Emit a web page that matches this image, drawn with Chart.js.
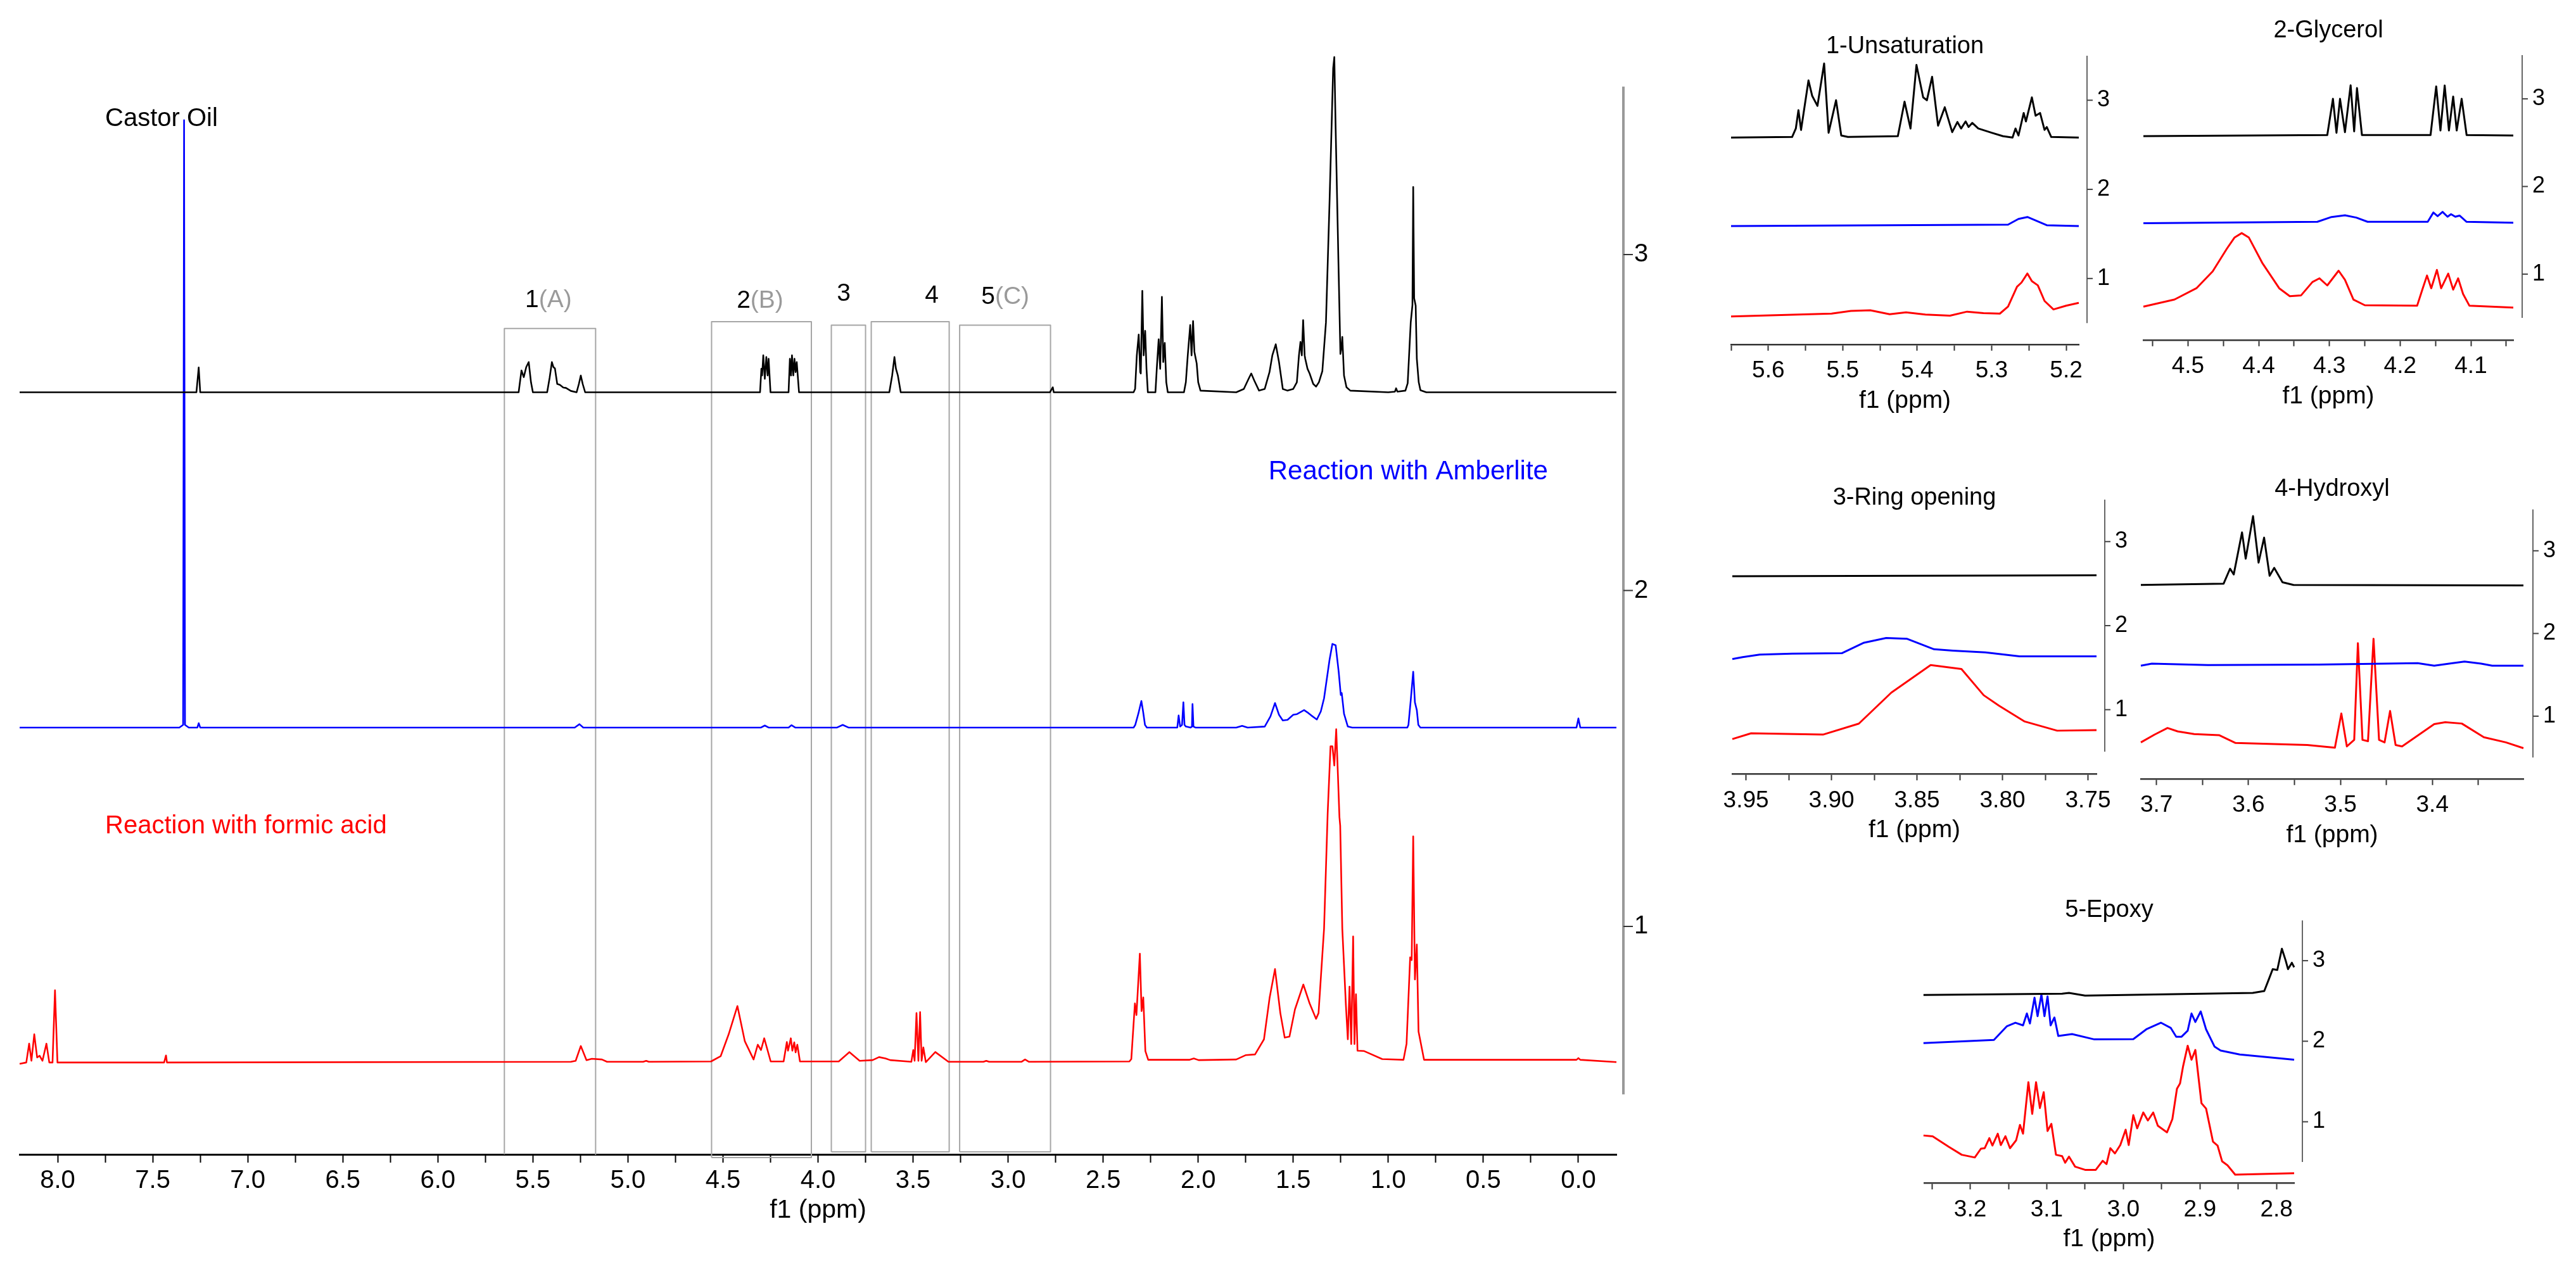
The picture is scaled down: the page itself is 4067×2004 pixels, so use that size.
<!DOCTYPE html>
<html>
<head>
<meta charset="utf-8">
<script src="https://cdn.jsdelivr.net/npm/chart.js@4.4.1/dist/chart.umd.min.js"></script>
<style>
html, body { margin: 0; padding: 0; background: #fff; }
body { width: 4067px; height: 2004px; position: relative; overflow: hidden; }
canvas { position: absolute; }
</style>
</head>
<body>
<canvas id="main"></canvas>
<canvas id="unsat"></canvas>
<canvas id="glyc"></canvas>
<canvas id="ring"></canvas>
<canvas id="hydrox"></canvas>
<canvas id="epoxy"></canvas>
<script>
// ---- data: [ppm, intensity] pairs ----
const castorMain = [[8.2,2.59],[7.27,2.59],[7.258,2.664],[7.25,2.59],
  [5.575,2.59],[5.56,2.655],[5.548,2.635],[5.535,2.665],[5.522,2.68],[5.51,2.62],[5.5,2.59],
  [5.425,2.59],[5.412,2.633],[5.405,2.66],[5.4,2.68],[5.392,2.665],[5.384,2.661],[5.372,2.615],[5.358,2.612],[5.34,2.604],[5.326,2.603],[5.3,2.594],[5.27,2.59],[5.258,2.615],[5.248,2.64],[5.238,2.615],[5.225,2.59],
  [4.305,2.59],[4.298,2.66],[4.294,2.64],[4.288,2.7],[4.28,2.63],[4.272,2.695],[4.265,2.64],[4.26,2.69],[4.25,2.59],
  [4.155,2.59],[4.148,2.69],[4.142,2.64],[4.137,2.7],[4.13,2.64],[4.124,2.69],[4.118,2.65],[4.112,2.68],[4.1,2.59],
  [3.625,2.59],[3.61,2.64],[3.598,2.695],[3.59,2.66],[3.58,2.64],[3.565,2.59],
  [2.78,2.59],[2.765,2.605],[2.76,2.59],
  [2.34,2.59],[2.332,2.6],[2.323,2.7],[2.313,2.762],[2.305,2.65],[2.302,2.646],[2.294,2.892],[2.287,2.7],[2.279,2.773],[2.272,2.66],[2.265,2.59],
  [2.225,2.59],[2.218,2.66],[2.208,2.748],[2.2,2.66],[2.191,2.874],[2.184,2.68],[2.176,2.737],[2.168,2.62],[2.16,2.59],
  [2.075,2.59],[2.065,2.62],[2.055,2.7],[2.042,2.79],[2.035,2.7],[2.027,2.802],[2.02,2.71],[2.008,2.676],[2.0,2.62],[1.988,2.595],
  [1.8,2.59],[1.76,2.6],[1.735,2.63],[1.721,2.646],[1.705,2.625],[1.68,2.595],[1.65,2.6],
  [1.625,2.65],[1.61,2.7],[1.592,2.733],[1.575,2.68],[1.555,2.6],[1.53,2.595],
  [1.5,2.6],[1.481,2.62],[1.47,2.7],[1.462,2.74],[1.455,2.7],[1.448,2.805],[1.44,2.7],[1.437,2.69],[1.425,2.66],[1.414,2.646],[1.395,2.615],[1.38,2.607],[1.365,2.62],[1.347,2.653],[1.328,2.798],[1.309,3.159],[1.29,3.555],[1.284,3.588],[1.277,3.375],[1.261,2.942],[1.252,2.704],[1.247,2.72],[1.242,2.755],[1.233,2.64],[1.22,2.605],[1.2,2.595],
  [1.0,2.59],[0.965,2.592],[0.959,2.602],[0.952,2.592],[0.91,2.595],[0.898,2.617],[0.882,2.798],[0.873,2.85],[0.869,3.201],[0.864,2.87],[0.856,2.848],[0.85,2.69],[0.84,2.62],[0.831,2.596],[0.8,2.59],[-0.2,2.59]];

const amberliteMain = [[8.2,1.592],[7.36,1.592],[7.34,1.6],[7.335,3.4],[7.33,1.6],[7.31,1.592],[7.265,1.592],[7.258,1.605],[7.25,1.592],
  [5.28,1.592],[5.255,1.602],[5.235,1.592],[4.3,1.592],[4.28,1.598],[4.26,1.592],[4.155,1.592],[4.14,1.599],[4.12,1.592],
  [3.9,1.592],[3.87,1.6],[3.84,1.592],
  [2.34,1.592],[2.331,1.6],[2.315,1.633],[2.299,1.671],[2.29,1.64],[2.28,1.6],[2.27,1.592],
  [2.11,1.592],[2.103,1.628],[2.095,1.595],[2.085,1.6],[2.078,1.667],[2.072,1.6],[2.065,1.595],
  [2.04,1.592],[2.033,1.595],[2.03,1.662],[2.025,1.595],[2.015,1.592],
  [1.8,1.592],[1.769,1.597],[1.74,1.592],
  [1.65,1.595],[1.62,1.625],[1.596,1.665],[1.575,1.63],[1.555,1.613],[1.53,1.615],[1.5,1.63],[1.48,1.632],[1.443,1.644],[1.42,1.635],[1.405,1.628],[1.376,1.616],[1.355,1.64],[1.338,1.679],[1.309,1.794],[1.294,1.841],[1.277,1.837],[1.261,1.758],[1.25,1.689],[1.245,1.695],[1.233,1.633],[1.213,1.595],[1.19,1.592],
  [0.9,1.592],[0.894,1.6],[0.882,1.673],[0.869,1.758],[0.86,1.667],[0.85,1.644],[0.842,1.6],[0.831,1.592],
  [0.01,1.592],[0.0,1.619],[-0.01,1.592],[-0.2,1.592]];

const formicMain = [[8.2,0.591],[8.165,0.595],[8.15,0.651],[8.138,0.6],[8.123,0.679],[8.108,0.61],[8.095,0.615],[8.08,0.6],[8.059,0.651],[8.044,0.595],[8.027,0.595],[8.014,0.81],[8.001,0.595],
  [7.44,0.595],[7.43,0.616],[7.425,0.595],
  [5.3,0.597],[5.275,0.6],[5.248,0.644],[5.218,0.602],[5.19,0.606],[5.137,0.604],[5.11,0.597],
  [4.92,0.597],[4.904,0.6],[4.89,0.597],
  [4.563,0.598],[4.512,0.614],[4.47,0.679],[4.424,0.763],[4.385,0.658],[4.339,0.604],[4.317,0.648],[4.3,0.632],[4.283,0.667],[4.249,0.598],[4.181,0.598],[4.164,0.656],[4.158,0.63],[4.143,0.667],[4.135,0.63],[4.125,0.655],[4.118,0.625],[4.109,0.648],[4.095,0.598],
  [3.891,0.598],[3.835,0.626],[3.781,0.6],[3.713,0.602],[3.679,0.611],[3.645,0.607],[3.62,0.602],[3.509,0.597],[3.499,0.632],[3.492,0.6],[3.482,0.742],[3.472,0.6],[3.463,0.745],[3.455,0.6],[3.446,0.64],[3.433,0.596],[3.383,0.626],[3.314,0.597],
  [3.13,0.597],[3.115,0.6],[3.1,0.597],[2.93,0.597],[2.911,0.604],[2.89,0.597],
  [2.362,0.598],[2.352,0.605],[2.333,0.771],[2.325,0.736],[2.307,0.919],[2.298,0.748],[2.289,0.789],[2.278,0.629],[2.263,0.603],
  [2.045,0.603],[2.023,0.607],[1.998,0.602],[1.8,0.604],[1.749,0.617],[1.701,0.619],[1.654,0.664],[1.624,0.789],[1.596,0.873],[1.568,0.742],[1.545,0.669],[1.52,0.672],[1.491,0.753],[1.447,0.827],[1.414,0.771],[1.38,0.725],[1.367,0.742],[1.338,0.993],[1.319,1.336],[1.304,1.536],[1.294,1.536],[1.284,1.479],[1.274,1.587],[1.265,1.45],[1.257,1.325],[1.253,1.3],[1.242,0.993],[1.223,0.765],[1.213,0.664],[1.204,0.821],[1.195,0.65],[1.185,0.97],[1.178,0.65],[1.17,0.798],[1.162,0.63],[1.127,0.629],[1.032,0.605],
  [0.92,0.603],[0.904,0.651],[0.885,0.908],[0.877,0.9],[0.869,1.268],[0.86,0.842],[0.85,0.946],[0.841,0.687],[0.812,0.603],[0.01,0.603],[0.0,0.608],[-0.01,0.603],[-0.2,0.596]];

const unsatBlack = [[5.65,2.581],[5.568,2.588],[5.563,2.683],[5.5595,2.889],[5.556,2.667],[5.546,3.222],[5.541,3.048],[5.534,2.937],[5.525,3.412],[5.519,2.635],[5.509,3.0],[5.502,2.604],[5.493,2.588],[5.426,2.597],[5.417,2.984],[5.409,2.683],[5.401,3.396],[5.392,3.032],[5.387,3.0],[5.38,3.263],[5.372,2.715],[5.363,2.921],[5.353,2.642],[5.346,2.756],[5.341,2.683],[5.335,2.762],[5.331,2.7],[5.326,2.746],[5.318,2.683],[5.3,2.635],[5.285,2.597],[5.272,2.581],[5.268,2.683],[5.264,2.604],[5.257,2.857],[5.254,2.762],[5.246,3.032],[5.241,2.826],[5.235,2.857],[5.229,2.667],[5.226,2.699],[5.22,2.588],[5.183,2.581]];
const unsatBlue = [[5.65,1.589],[5.278,1.604],[5.264,1.668],[5.252,1.69],[5.241,1.652],[5.226,1.598],[5.183,1.589]];
const unsatRed = [[5.65,0.574],[5.515,0.606],[5.489,0.637],[5.463,0.644],[5.437,0.599],[5.415,0.621],[5.389,0.596],[5.356,0.583],[5.333,0.628],[5.311,0.612],[5.289,0.606],[5.278,0.685],[5.266,0.907],[5.26,0.954],[5.252,1.056],[5.246,0.97],[5.238,0.923],[5.229,0.748],[5.217,0.653],[5.2,0.695],[5.183,0.727]];

const glycBlack = [[4.563,2.574],[4.303,2.587],[4.295,3.0],[4.29,2.613],[4.285,3.0],[4.278,2.62],[4.27,3.155],[4.265,2.629],[4.261,3.123],[4.254,2.587],[4.157,2.587],[4.149,3.142],[4.143,2.639],[4.137,3.152],[4.131,2.639],[4.125,3.026],[4.12,2.639],[4.113,3.0],[4.106,2.587],[4.04,2.581]];
const glycBlue = [[4.563,1.581],[4.317,1.597],[4.297,1.652],[4.278,1.671],[4.262,1.645],[4.246,1.597],[4.161,1.597],[4.153,1.703],[4.147,1.661],[4.14,1.71],[4.133,1.655],[4.128,1.684],[4.122,1.655],[4.116,1.668],[4.106,1.597],[4.04,1.587]];
const glycRed = [[4.563,0.629],[4.519,0.71],[4.488,0.839],[4.465,1.032],[4.445,1.29],[4.434,1.419],[4.424,1.468],[4.414,1.419],[4.395,1.129],[4.371,0.839],[4.356,0.748],[4.34,0.758],[4.324,0.91],[4.314,0.952],[4.303,0.871],[4.287,1.039],[4.278,0.935],[4.266,0.71],[4.25,0.645],[4.176,0.639],[4.168,0.839],[4.162,0.984],[4.156,0.839],[4.148,1.048],[4.142,0.839],[4.132,1.006],[4.125,0.823],[4.118,0.952],[4.111,0.774],[4.102,0.639],[4.04,0.619]];

const ringBlack = [[3.958,2.588],[3.745,2.6]];
const ringBlue = [[3.958,1.603],[3.952,1.625],[3.942,1.656],[3.923,1.666],[3.894,1.672],[3.881,1.797],[3.868,1.853],[3.856,1.844],[3.84,1.719],[3.829,1.703],[3.81,1.681],[3.79,1.634],[3.745,1.634]];
const ringRed = [[3.958,0.65],[3.947,0.719],[3.905,0.703],[3.884,0.834],[3.865,1.203],[3.842,1.531],[3.824,1.484],[3.811,1.172],[3.802,1.047],[3.787,0.859],[3.768,0.75],[3.745,0.756]];

const hydroxBlack = [[3.717,2.587],[3.627,2.603],[3.62,2.784],[3.616,2.714],[3.607,3.222],[3.603,2.905],[3.595,3.419],[3.589,2.857],[3.583,3.159],[3.577,2.698],[3.572,2.794],[3.563,2.619],[3.551,2.587],[3.301,2.581]];
const hydroxBlue = [[3.717,1.61],[3.705,1.635],[3.644,1.619],[3.524,1.625],[3.416,1.641],[3.398,1.61],[3.378,1.641],[3.365,1.66],[3.347,1.635],[3.335,1.61],[3.301,1.61]];
const hydroxRed = [[3.717,0.683],[3.702,0.778],[3.688,0.857],[3.677,0.816],[3.659,0.784],[3.632,0.771],[3.614,0.676],[3.584,0.667],[3.536,0.651],[3.506,0.619],[3.499,1.032],[3.493,0.635],[3.485,0.714],[3.481,1.883],[3.476,0.714],[3.47,0.698],[3.464,1.937],[3.458,0.714],[3.452,0.683],[3.446,1.063],[3.44,0.651],[3.433,0.635],[3.398,0.905],[3.386,0.927],[3.368,0.911],[3.344,0.746],[3.32,0.683],[3.301,0.613]];

const epoxyBlack = [[3.261,2.574],[3.08,2.59],[3.071,2.6],[3.05,2.567],[2.831,2.6],[2.816,2.623],[2.81,2.77],[2.805,2.895],[2.799,2.885],[2.793,3.148],[2.788,3.0],[2.785,2.895],[2.78,2.974],[2.777,2.918]];
const epoxyBlue = [[3.261,1.977],[3.169,2.016],[3.152,2.187],[3.141,2.23],[3.131,2.197],[3.126,2.344],[3.122,2.22],[3.116,2.541],[3.112,2.311],[3.107,2.58],[3.103,2.311],[3.099,2.557],[3.095,2.197],[3.09,2.295],[3.085,2.066],[3.067,2.089],[3.038,2.023],[2.987,2.026],[2.97,2.148],[2.951,2.23],[2.938,2.164],[2.931,2.056],[2.924,2.056],[2.916,2.131],[2.911,2.344],[2.906,2.239],[2.899,2.37],[2.892,2.148],[2.881,1.934],[2.873,1.885],[2.848,1.836],[2.777,1.77]];
const epoxyRed = [[3.261,0.83],[3.249,0.82],[3.228,0.689],[3.211,0.59],[3.194,0.557],[3.186,0.666],[3.181,0.672],[3.175,0.797],[3.171,0.705],[3.164,0.852],[3.16,0.711],[3.154,0.82],[3.148,0.672],[3.14,0.77],[3.135,0.961],[3.131,0.852],[3.124,1.492],[3.119,1.098],[3.114,1.492],[3.109,1.17],[3.104,1.367],[3.099,0.885],[3.094,0.974],[3.088,0.59],[3.08,0.574],[3.076,0.492],[3.071,0.567],[3.063,0.443],[3.05,0.403],[3.036,0.403],[3.027,0.515],[3.022,0.475],[3.017,0.672],[3.011,0.607],[3.004,0.711],[2.997,0.902],[2.993,0.711],[2.987,1.082],[2.982,0.918],[2.974,1.115],[2.968,1.016],[2.961,1.115],[2.955,0.951],[2.943,0.869],[2.936,1.033],[2.93,1.41],[2.926,1.475],[2.922,1.689],[2.916,1.944],[2.911,1.77],[2.906,1.892],[2.898,1.23],[2.892,1.164],[2.883,0.754],[2.877,0.705],[2.871,0.508],[2.864,0.459],[2.854,0.344],[2.777,0.361]];

// ---- ticks ----
const yTickValues = [1, 2, 3];
const mainTicks = [8.0,7.75,7.5,7.25,7.0,6.75,6.5,6.25,6.0,5.75,5.5,5.25,5.0,4.75,4.5,4.25,4.0,3.75,3.5,3.25,3.0,2.75,2.5,2.25,2.0,1.75,1.5,1.25,1.0,0.75,0.5,0.25,0.0];
const mainTickLabels = ['8.0','','7.5','','7.0','','6.5','','6.0','','5.5','','5.0','','4.5','','4.0','','3.5','','3.0','','2.5','','2.0','','1.5','','1.0','','0.5','','0.0'];
const unsatTicks = [5.65,5.6,5.55,5.5,5.45,5.4,5.35,5.3,5.25,5.2];
const unsatTickLabels = ['','5.6','','5.5','','5.4','','5.3','','5.2'];
const glycTicks = [4.55,4.5,4.45,4.4,4.35,4.3,4.25,4.2,4.15,4.1,4.05];
const glycTickLabels = ['','4.5','','4.4','','4.3','','4.2','','4.1',''];
const ringTicks = [3.95,3.925,3.9,3.875,3.85,3.825,3.8,3.775,3.75];
const ringTickLabels = ['3.95','','3.90','','3.85','','3.80','','3.75'];
const hydroxTicks = [3.7,3.65,3.6,3.55,3.5,3.45,3.4,3.35];
const hydroxTickLabels = ['3.7','','3.6','','3.5','','3.4',''];
const epoxyTicks = [3.25,3.2,3.15,3.1,3.05,3.0,2.95,2.9,2.85,2.8];
const epoxyTickLabels = ['','3.2','','3.1','','3.0','','2.9','','2.8'];

// ---- annotations on the main spectrum ----
const sampleNames = ['Castor Oil', 'Reaction with Amberlite', 'Reaction with formic acid'];
const sampleColors = ['#000000', '#0000ff', '#ff0000'];
const sampleNamePpm = [7.75, 1.63, 7.75];
const sampleNameVal = [3.404, 2.353, 1.298];
const boxLeft = [5.65, 4.56, 3.93, 3.72, 3.255];
const boxRight = [5.17, 4.035, 3.75, 3.31, 2.777];
const boxTop = [2.78, 2.8, 2.79, 2.8, 2.79];
const boxBottom = [0.3214, 0.312, 0.329, 0.329, 0.329];
const boxClosed = [false, true, true, true, true];
const boxNums = ['1', '2', '3', '4', '5'];
const boxLetters = ['(A)', '(B)', '', '', '(C)'];
const boxLabelPpm = [5.418, 4.305, 3.865, 3.402, 3.015];
const boxLabelVal = [2.864, 2.862, 2.883, 2.877, 2.874];

const FONT = "'Liberation Sans', Arial, sans-serif";
Chart.defaults.font.family = FONT;
Chart.defaults.color = '#000';

// vertical intensity axis drawn only between 0.5 and 3.5, a bit right of the plot
const yAxisLine = {
	id: 'yAxisLine',
	afterDraw(chart, args, opts) {
		const y = chart.scales.y;
		const ctx = chart.ctx;
		const x0 = chart.chartArea.right + opts.offset;
		ctx.save();
		ctx.strokeStyle = opts.color;
		ctx.lineWidth = opts.width;
		ctx.beginPath();
		ctx.moveTo(x0, y.getPixelForValue(0.5));
		ctx.lineTo(x0, y.getPixelForValue(3.5));
		ctx.stroke();
		ctx.lineWidth = 2;
		ctx.strokeStyle = opts.tickColor;
		y.ticks.forEach((t) => {
			const py = y.getPixelForValue(t.value);
			ctx.beginPath();
			ctx.moveTo(x0, py);
			ctx.lineTo(x0 + opts.tickLen, py);
			ctx.stroke();
		});
		ctx.restore();
	}
};

const mainText = {
	id: 'mainText',
	afterDatasetsDraw(chart) {
		const { ctx } = chart;
		const x = chart.scales.x, y = chart.scales.y;
		ctx.save();
		ctx.textBaseline = 'middle';
		ctx.textAlign = 'left';
		sampleNames.forEach((name, i) => {
			ctx.font = (i === 1 ? '42px ' : '40px ') + FONT;
			ctx.fillStyle = sampleColors[i];
			ctx.fillText(name, x.getPixelForValue(sampleNamePpm[i]), y.getPixelForValue(sampleNameVal[i]));
		});
		ctx.font = '39px ' + FONT;
		boxNums.forEach((n, i) => {
			const cx = x.getPixelForValue(boxLabelPpm[i]);
			const cy = y.getPixelForValue(boxLabelVal[i]);
			const w1 = ctx.measureText(n).width;
			const w2 = ctx.measureText(boxLetters[i]).width;
			const sx = cx - (w1 + w2) / 2;
			ctx.fillStyle = '#000';
			ctx.fillText(n, sx, cy);
			ctx.fillStyle = '#9a9a9a';
			ctx.fillText(boxLetters[i], sx + w1, cy);
		});
		ctx.restore();
	}
};

function lineSet(pts, color, width) {
	return {
		data: pts.map(([x, y]) => ({ x, y })),
		borderColor: color,
		borderWidth: width,
		showLine: true,
		pointRadius: 0,
		fill: false,
		clip: false,
		tension: 0,
		borderJoinStyle: 'round'
	};
}

function spectrum(id, p, extraSets, extraPlugins) {
	const padL = p.padL, padT = 5;
	const lhTitle = p.titleSize * 1.2;
	const areaTop = p.title ? p.titleY + lhTitle / 2 + 10 : p.areaTop;
	const canvasTop = p.title ? p.titleY - lhTitle / 2 - padT : p.areaTop - padT;
	const yMax = 3 + (p.y3 - areaTop) / p.unit;
	const yMin = 3 - (p.axisY - p.y3) / p.unit;
	const xScaleH = 89 + p.axisTitleSize * 0.6;
	const yScaleW = p.yOffset + p.yGap + 45;
	const cv = document.getElementById(id);
	cv.width = Math.ceil(padL + (p.right - p.left) + yScaleW + 5);
	cv.height = Math.ceil(p.axisY - canvasTop + xScaleH + 5);
	const padR = cv.width - padL - (p.right - p.left) - yScaleW;
	const padB = cv.height - (p.axisY - canvasTop) - xScaleH;
	cv.style.left = (p.left - padL) + 'px';
	cv.style.top = canvasTop + 'px';

	const datasets = [
		lineSet(p.black, '#000000', p.lineW),
		lineSet(p.blue, '#0000ff', p.lineW),
		lineSet(p.red, '#ff0000', p.lineW)
	].concat(extraSets || []);

	return new Chart(cv, {
		type: 'scatter',
		data: { datasets },
		plugins: [yAxisLine].concat(extraPlugins || []),
		options: {
			responsive: false,
			animation: false,
			devicePixelRatio: 1,
			layout: { padding: { left: padL, right: padR, top: padT, bottom: padB } },
			plugins: {
				legend: { display: false },
				tooltip: { enabled: false },
				title: p.title ? {
					display: true, text: p.title, fullSize: false, color: '#000',
					font: { size: p.titleSize, weight: 'normal' },
					padding: { top: 0, bottom: 10 }
				} : { display: false },
				yAxisLine: { offset: p.yOffset, color: p.yLineColor, width: p.yLineW, tickColor: p.yTickColor, tickLen: p.yTickLen }
			},
			scales: {
				x: {
					type: 'linear', position: 'bottom', reverse: true,
					min: p.ppmRight, max: p.ppmLeft,
					afterBuildTicks: (s) => { s.ticks = p.ticks.map((v) => ({ value: v })); },
					afterFit: (s) => { s.height = xScaleH; s.paddingLeft = 0; s.paddingRight = 0; },
					ticks: {
						autoSkip: false, maxRotation: 0, minRotation: 0,
						padding: p.tickPad, color: '#000', font: { size: p.tickSize },
						callback: (v, i) => p.tickLabels[i]
					},
					grid: { drawOnChartArea: false, drawTicks: true, tickLength: p.tickLen, tickColor: p.axisColor, tickWidth: 2 },
					border: { display: true, color: p.axisColor, width: p.axisW },
					title: { display: true, text: 'f1 (ppm)', color: '#000', font: { size: p.axisTitleSize }, padding: { top: 0, bottom: 0 } }
				},
				y: {
					type: 'linear', position: 'right', min: yMin, max: yMax,
					afterBuildTicks: (s) => { s.ticks = yTickValues.map((v) => ({ value: v })); },
					afterFit: (s) => { s.width = yScaleW; s.paddingTop = 0; s.paddingBottom = 0; },
					ticks: { padding: p.yOffset + p.yGap, color: '#000', font: { size: p.yTickSize }, callback: (v) => String(v) },
					grid: { display: false, drawTicks: false },
					border: { display: false }
				}
			}
		}
	});
}

const insetStyle = {
	padL: 40, lineW: 3, titleSize: 38, tickSize: 37, axisTitleSize: 39, yTickSize: 36,
	tickLen: 10, tickPad: 10, axisColor: '#333', axisW: 2.5,
	yGap: 16, yLineColor: '#666', yLineW: 2, yTickColor: '#444', yTickLen: 9
};

// main stacked spectrum with region boxes
const boxSets = boxLeft.map((l, i) => {
	const pts = [[l, boxBottom[i]], [l, boxTop[i]], [boxRight[i], boxTop[i]], [boxRight[i], boxBottom[i]]];
	if (boxClosed[i]) pts.push([l, boxBottom[i]]);
	return lineSet(pts, '#a6a6a6', 2);
});

spectrum('main', {
	left: 31, right: 2552, ppmLeft: 8.2, ppmRight: -0.2,
	y3: 402, unit: 530.5, axisY: 1823, areaTop: 60, title: null,
	padL: 25, lineW: 2.6, titleSize: 38, tickSize: 40, axisTitleSize: 41, yTickSize: 40,
	tickLen: 13, tickPad: 5, axisColor: '#000', axisW: 3,
	yOffset: 11, yGap: 17, yLineColor: '#999', yLineW: 4, yTickColor: '#333', yTickLen: 15,
	ticks: mainTicks, tickLabels: mainTickLabels,
	black: castorMain, blue: amberliteMain, red: formicMain
}, boxSets, [mainText]);

spectrum('unsat', Object.assign({}, insetStyle, {
	left: 2733, right: 3282, ppmLeft: 5.65, ppmRight: 5.183,
	y3: 158.5, unit: 140.75, axisY: 544, title: '1-Unsaturation', titleY: 74, yOffset: 13,
	ticks: unsatTicks, tickLabels: unsatTickLabels,
	black: unsatBlack, blue: unsatBlue, red: unsatRed
}));

spectrum('glyc', Object.assign({}, insetStyle, {
	left: 3384, right: 3968, ppmLeft: 4.563, ppmRight: 4.04,
	y3: 156.3, unit: 138.4, axisY: 537, title: '2-Glycerol', titleY: 49, yOffset: 14,
	ticks: glycTicks, tickLabels: glycTickLabels,
	black: glycBlack, blue: glycBlue, red: glycRed
}));

spectrum('ring', Object.assign({}, insetStyle, {
	left: 2735, right: 3310, ppmLeft: 3.958, ppmRight: 3.745,
	y3: 855.5, unit: 132.7, axisY: 1222.5, title: '3-Ring opening', titleY: 787, yOffset: 13,
	ticks: ringTicks, tickLabels: ringTickLabels,
	black: ringBlack, blue: ringBlue, red: ringRed
}));

spectrum('hydrox', Object.assign({}, insetStyle, {
	left: 3380, right: 3984, ppmLeft: 3.717, ppmRight: 3.301,
	y3: 870, unit: 130.6, axisY: 1230, title: '4-Hydroxyl', titleY: 773, yOffset: 15,
	ticks: hydroxTicks, tickLabels: hydroxTickLabels,
	black: hydroxBlack, blue: hydroxBlue, red: hydroxRed
}));

spectrum('epoxy', Object.assign({}, insetStyle, {
	left: 3038, right: 3622, ppmLeft: 3.26, ppmRight: 2.777,
	y3: 1516.8, unit: 127.2, axisY: 1868, title: '5-Epoxy', titleY: 1437.5, yOffset: 13,
	ticks: epoxyTicks, tickLabels: epoxyTickLabels,
	black: epoxyBlack, blue: epoxyBlue, red: epoxyRed
}));
</script>
</body>
</html>
